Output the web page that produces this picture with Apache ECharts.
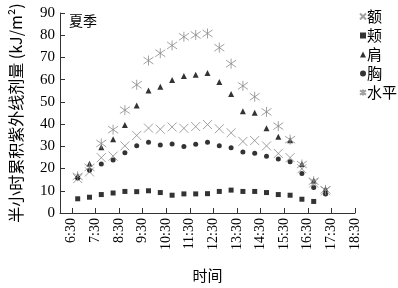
<!DOCTYPE html>
<html>
<head>
<meta charset="utf-8">
<script src="https://cdn.jsdelivr.net/npm/echarts@6/dist/echarts.min.js"></script>
<style>
  html, body { margin: 0; padding: 0; background: #fff; }
  #chart { width: 398px; height: 288px; }
</style>
</head>
<body>
<div id="chart"></div>
<script>
// 横轴刻度 (每半小时一格, 只在 :30 处标注)
var axisTimes = ['6:00', '6:30', '7:00', '7:30', '8:00', '8:30', '9:00', '9:30', '10:00', '10:30',
  '11:00', '11:30', '12:00', '12:30', '13:00', '13:30', '14:00', '14:30', '15:00', '15:30',
  '16:00', '16:30', '17:00', '17:30', '18:00', '18:30'];
// 测量时刻 (半小时中点)
var pointTimes = ['6:45', '7:15', '7:45', '8:15', '8:45', '9:15', '9:45', '10:15', '10:45', '11:15',
  '11:45', '12:15', '12:45', '13:15', '13:45', '14:15', '14:45', '15:15', '15:45', '16:15',
  '16:45', '17:15'];

var forehead = [15.5, 18.5, 24.9, 25.6, 30.2, 34.9, 38.2, 37.7, 38.7, 38.1, 38.9, 39.8, 37.9, 36.1, 32.2, 32.6, 30.2, 26.8, 24.9, 19.9, 13.5, 10.0];
var cheek = [6.4, 7.1, 8.3, 9.0, 9.7, 9.6, 10.0, 9.2, 8.0, 8.6, 8.6, 8.7, 9.7, 10.3, 9.7, 9.7, 9.2, 8.3, 8.0, 6.2, 5.2, null];
var shoulder = [16.8, 22.2, 29.6, 33.2, 39.6, 48.4, 55.1, 56.8, 59.9, 61.7, 62.2, 63.0, 59.0, 53.6, 45.8, 45.1, 38.1, 34.3, 32.7, 22.0, 14.6, 10.8];
var chest = [15.8, 19.2, 22.1, 23.8, 27.1, 30.3, 31.8, 30.6, 31.0, 29.9, 30.9, 31.8, 30.3, 29.4, 27.5, 26.9, 25.5, 24.3, 23.1, 17.8, 11.5, 8.6];
var horizontal = [16.5, 20.5, 31.3, 37.5, 46.3, 57.7, 68.6, 71.9, 75.4, 79.3, 80.1, 80.8, 74.4, 67.2, 57.2, 52.3, 45.5, 39.1, 33.0, 21.8, 14.3, 10.4];

var yTicks = { min: 0, max: 90, interval: 10 };

var SERIF = 'Liberation Serif';
var CJK = 'Noto Sans CJK SC';

function toHours(t) {
  var p = t.split(':');
  return Number(p[0]) + Number(p[1]) / 60;
}

function pairs(vals) {
  var out = [];
  for (var i = 0; i < pointTimes.length; i++) {
    if (vals[i] == null) continue;
    out.push([toHours(pointTimes[i]), vals[i]]);
  }
  return out;
}

var crossPath = 'path://M0,0L10,10M10,0L0,10';
var starPath = 'path://M0,1.5L10,8.5M10,1.5L0,8.5M5,0L5,10';

var scatterSeries = function (name, vals, symbol, size, hollow) {
  return {
    name: name,
    type: 'scatter',
    xAxisIndex: 0,
    data: pairs(vals),
    symbol: symbol,
    symbolSize: size,
    itemStyle: hollow
      ? { color: 'rgba(0,0,0,0)', borderColor: '#8a8a8a', borderWidth: 1 }
      : { color: '#000' },
    emphasis: { disabled: true }
  };
};

var chart = echarts.init(document.getElementById('chart'));
chart.setOption({
  animation: false,
  backgroundColor: '#fff',
  grid: { left: 56, right: 43, top: 13, bottom: 65, containLabel: false },
  title: {
    text: '夏季',
    left: 64,
    top: 9,
    textStyle: { fontFamily: CJK, fontSize: 14, fontWeight: 'normal', color: '#000' }
  },
  legend: {
    orient: 'vertical',
    left: 354,
    top: 4,
    itemWidth: 6,
    itemHeight: 6,
    itemGap: 4,
    textStyle: { fontFamily: CJK, fontSize: 15, color: '#000', padding: [0, 0, 0, -4] },
    data: ['额', '颊', '肩', '胸', '水平']
  },
  xAxis: [
    {
      type: 'value',
      min: toHours('6:00'),
      max: toHours('18:30'),
      show: false
    },
    {
      type: 'category',
      position: 'bottom',
      boundaryGap: false,
      data: axisTimes,
      name: '时间',
      nameLocation: 'middle',
      nameGap: 55,
      nameTextStyle: { fontFamily: CJK, fontSize: 15, color: '#000' },
      axisLine: { lineStyle: { color: '#333', width: 1 } },
      axisTick: {
        inside: true,
        length: 5,
        interval: function (i) { return i % 2 === 1; },
        lineStyle: { color: '#333' }
      },
      axisLabel: {
        rotate: 90,
        margin: 5,
        interval: function (i) { return i % 2 === 1; },
        fontFamily: SERIF,
        fontSize: 14,
        color: '#000'
      },
      splitLine: { show: false }
    }
  ],
  yAxis: {
    type: 'value',
    min: yTicks.min,
    max: yTicks.max,
    interval: yTicks.interval,
    name: '半小时累积紫外线剂量 (kJ/m²)',
    nameLocation: 'middle',
    nameGap: 36,
    nameTextStyle: { fontFamily: CJK, fontSize: 16, color: '#000' },
    axisLine: { show: true, lineStyle: { color: '#333', width: 1 } },
    axisTick: { show: true, inside: true, length: 5, lineStyle: { color: '#333' } },
    axisLabel: { margin: 5, fontFamily: SERIF, fontSize: 15, color: '#000' },
    splitLine: { show: false }
  },
  series: [
    scatterSeries('额', forehead, crossPath, 9, true),
    scatterSeries('颊', cheek, 'rect', 5, false),
    scatterSeries('肩', shoulder, 'triangle', 6, false),
    scatterSeries('胸', chest, 'circle', 5, false),
    scatterSeries('水平', horizontal, starPath, 10, true)
  ]
});
</script>
</body>
</html>
